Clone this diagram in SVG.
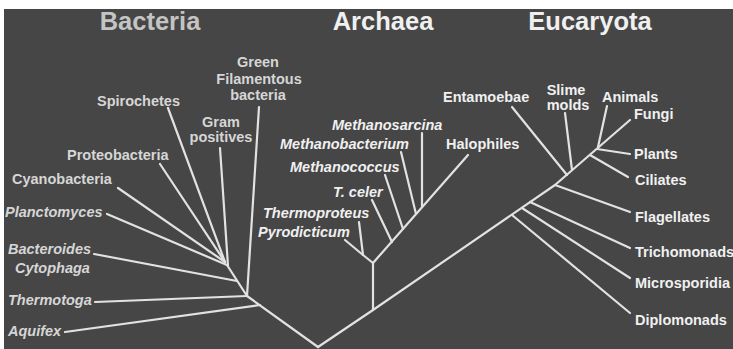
<svg xmlns="http://www.w3.org/2000/svg" width="733" height="349" viewBox="0 0 733 349">
<style>
text{font-family:"Liberation Sans",Arial,sans-serif;font-weight:bold;font-size:14.5px;fill:#f0f0f0}
.b{fill:#d6d6d6}
.i{font-style:italic}
.t{font-size:25.5px}
.tb{fill:#c4c4c4}
.m{text-anchor:middle}
#connectors line,#connectors polyline{stroke:#e2e2e2;stroke-width:2.2;fill:none;stroke-linecap:round;stroke-linejoin:round}
</style>
<rect x="0" y="0" width="733" height="349" fill="#ffffff"/>
<rect x="4" y="9" width="729" height="340" fill="#464646"/>
<g id="connectors">
<polyline points="318,347 247,296 227,265"/>
<polyline points="318,347 373,310 555,185 630,120"/>
<line x1="65" y1="332" x2="260" y2="305"/>
<line x1="95" y1="302" x2="247" y2="296"/>
<line x1="259" y1="107" x2="247" y2="296"/>
<line x1="94" y1="254" x2="237" y2="281"/>
<line x1="107" y1="214" x2="227" y2="265"/>
<line x1="118" y1="188" x2="225" y2="262"/>
<line x1="160" y1="164" x2="225" y2="262"/>
<line x1="168" y1="108" x2="225" y2="262"/>
<line x1="220" y1="148" x2="228" y2="266"/>
<polyline points="373,310 373,263 468,155"/>
<polyline points="373,263 363,255 345,240"/>
<line x1="363" y1="255" x2="359" y2="222"/>
<line x1="372" y1="200" x2="392" y2="242"/>
<line x1="385" y1="175" x2="403" y2="229"/>
<line x1="401" y1="152" x2="416" y2="214"/>
<line x1="422" y1="133" x2="422" y2="207"/>
<line x1="512" y1="215" x2="630" y2="313"/>
<line x1="522" y1="208" x2="630" y2="278"/>
<line x1="530" y1="202" x2="630" y2="248"/>
<line x1="555" y1="185" x2="630" y2="212"/>
<line x1="512" y1="107" x2="567" y2="175"/>
<line x1="565" y1="113" x2="572" y2="170"/>
<line x1="590" y1="155" x2="628" y2="177"/>
<line x1="597" y1="149" x2="630" y2="154"/>
<line x1="607" y1="106" x2="598" y2="147"/>
</g>
<g id="title-bacteria"><text class="t tb m" x="150" y="30">Bacteria</text></g>
<g id="title-archaea"><text class="t m" x="383" y="30">Archaea</text></g>
<g id="title-eucaryota"><text class="t m" x="590" y="30">Eucaryota</text></g>
<g id="green-filamentous"><text class="b m" x="258" y="67">Green</text><text class="b m" x="259" y="84">Filamentous</text><text class="b m" x="258" y="100">bacteria</text></g>
<g id="spirochetes"><text class="b" x="97" y="106">Spirochetes</text></g>
<g id="gram-positives"><text class="b m" x="221" y="127">Gram</text><text class="b m" x="221" y="142">positives</text></g>
<g id="proteobacteria"><text class="b" x="67" y="160">Proteobacteria</text></g>
<g id="cyanobacteria"><text class="b" x="12" y="184">Cyanobacteria</text></g>
<g id="planctomyces"><text class="b i" x="5" y="217">Planctomyces</text></g>
<g id="bacteroides"><text class="b i" x="8" y="254">Bacteroides</text><text class="b i" x="15" y="273">Cytophaga</text></g>
<g id="thermotoga"><text class="b i" x="8" y="305">Thermotoga</text></g>
<g id="aquifex"><text class="b i" x="8" y="336">Aquifex</text></g>
<g id="methanosarcina"><text class="i" x="332" y="130">Methanosarcina</text></g>
<g id="methanobacterium"><text class="i" x="280" y="149">Methanobacterium</text></g>
<g id="methanococcus"><text class="i" x="290" y="172">Methanococcus</text></g>
<g id="t-celer"><text class="i" x="333" y="197">T. celer</text></g>
<g id="thermoproteus"><text class="i" x="263" y="218">Thermoproteus</text></g>
<g id="pyrodicticum"><text class="i" x="258" y="237">Pyrodicticum</text></g>
<g id="halophiles"><text x="446" y="149">Halophiles</text></g>
<g id="entamoebae"><text x="443" y="102">Entamoebae</text></g>
<g id="slime-molds"><text class="m" x="566" y="95">Slime</text><text class="m" x="568" y="110">molds</text></g>
<g id="animals"><text x="602" y="102">Animals</text></g>
<g id="fungi"><text x="634" y="119">Fungi</text></g>
<g id="plants"><text x="634" y="159">Plants</text></g>
<g id="ciliates"><text x="635" y="185">Ciliates</text></g>
<g id="flagellates"><text x="635" y="222">Flagellates</text></g>
<g id="trichomonads"><text x="635" y="257">Trichomonads</text></g>
<g id="microsporidia"><text x="635" y="288">Microsporidia</text></g>
<g id="diplomonads"><text x="635" y="325">Diplomonads</text></g>
</svg>
